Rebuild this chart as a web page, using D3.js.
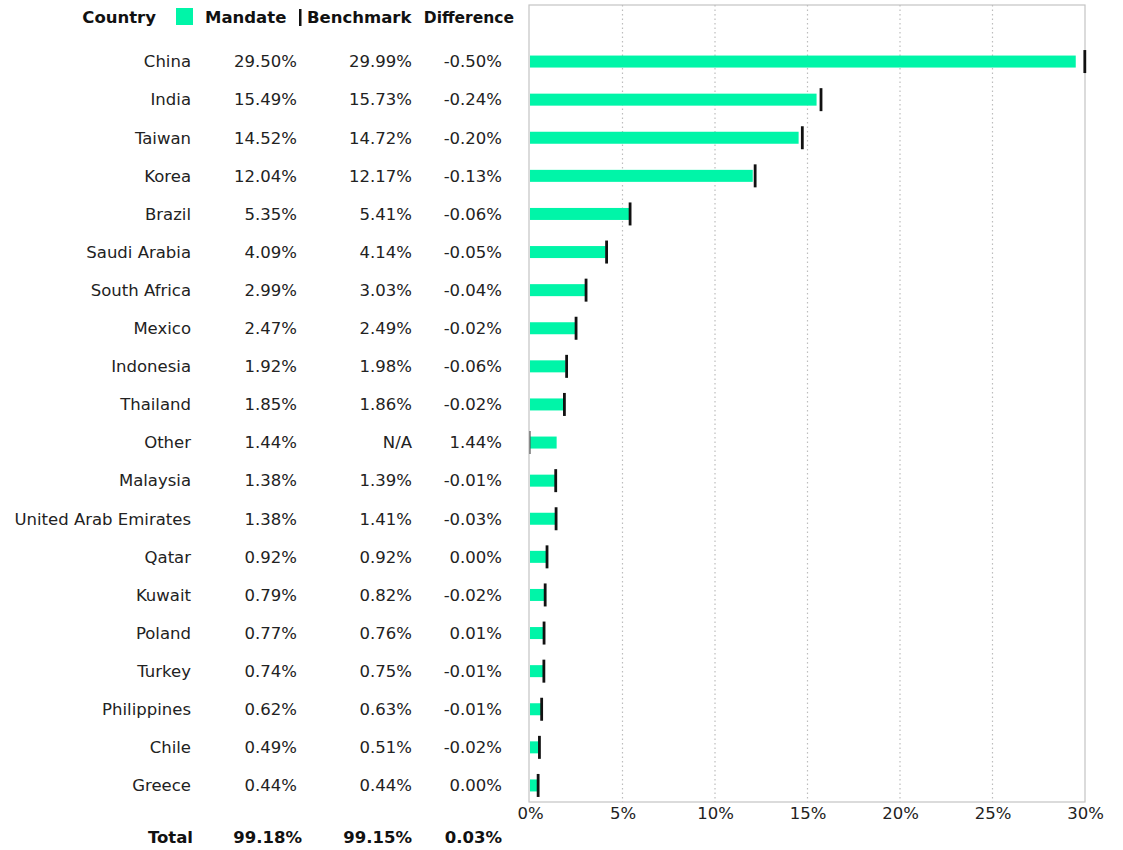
<!DOCTYPE html>
<html>
<head>
<meta charset="utf-8">
<script src="https://cdn.jsdelivr.net/npm/d3@7"></script>
<style>
  html, body { margin: 0; padding: 0; background: #fff; }
  svg { display: block; font-family: "DejaVu Sans", sans-serif; }
</style>
</head>
<body>
<svg id="chart" width="1123" height="850"></svg>
<script>
// Country allocation: mandate weight vs. benchmark weight (%)
const countries = ["China", "India", "Taiwan", "Korea", "Brazil", "Saudi Arabia", "South Africa",
  "Mexico", "Indonesia", "Thailand", "Other", "Malaysia", "United Arab Emirates", "Qatar",
  "Kuwait", "Poland", "Turkey", "Philippines", "Chile", "Greece"];
const mandate = [29.50, 15.49, 14.52, 12.04, 5.35, 4.09, 2.99, 2.47, 1.92, 1.85, 1.44, 1.38,
  1.38, 0.92, 0.79, 0.77, 0.74, 0.62, 0.49, 0.44];
const benchmark = [29.99, 15.73, 14.72, 12.17, 5.41, 4.14, 3.03, 2.49, 1.98, 1.86, null, 1.39,
  1.41, 0.92, 0.82, 0.76, 0.75, 0.63, 0.51, 0.44];
const difference = [-0.50, -0.24, -0.20, -0.13, -0.06, -0.05, -0.04, -0.02, -0.06, -0.02, 1.44,
  -0.01, -0.03, 0.00, -0.02, 0.01, -0.01, -0.01, -0.02, 0.00];
const totals = { mandate: 99.18, benchmark: 99.15, difference: 0.03 };
const xTicks = [0, 5, 10, 15, 20, 25, 30];

const svg = d3.select("#chart");
const green = "#00f5a8";
const textColor = "#222";
const fs = 16.5;
const fmt = v => v.toFixed(2) + "%";

const plot = { left: 530, right: 1085, top: 5, bottom: 802 };
const x = d3.scaleLinear().domain([0, 30]).range([plot.left, plot.right]);
const y = d3.scaleBand().domain(countries).range([42, 804]);
const rowY = c => y(c) + y.bandwidth() / 2;

// Plot frame
svg.append("rect")
  .attr("x", plot.left - 1).attr("y", plot.top)
  .attr("width", plot.right - plot.left + 1).attr("height", plot.bottom - plot.top)
  .attr("fill", "none").attr("stroke", "#c4c4c4").attr("stroke-width", 1.2);

// Dotted vertical gridlines
svg.append("g").selectAll("line")
  .data(xTicks.filter(t => t > 0 && t < 30))
  .join("line")
  .attr("x1", d => x(d)).attr("x2", d => x(d))
  .attr("y1", plot.top).attr("y2", plot.bottom)
  .attr("stroke", "#bdbdbd").attr("stroke-width", 1.2)
  .attr("stroke-dasharray", "1.5,3");

// X axis labels
const xAxis = d3.axisBottom(x).tickValues(xTicks).tickFormat(d => d + "%").tickSize(0).tickPadding(5);
const gx = svg.append("g").attr("transform", `translate(0,${plot.bottom})`).call(xAxis);
gx.select(".domain").remove();
gx.selectAll("text").attr("font-size", fs).attr("fill", textColor)
  .attr("font-family", "DejaVu Sans, sans-serif");

const rows = countries.map((c, i) => ({ c, m: mandate[i], b: benchmark[i], d: difference[i] }));

// Mandate bars
svg.append("g").selectAll("rect")
  .data(rows)
  .join("rect")
  .attr("x", x(0))
  .attr("y", d => rowY(d.c) - 5.5)
  .attr("width", d => x(d.m) - x(0))
  .attr("height", 12)
  .attr("fill", green);

// Benchmark markers
svg.append("g").selectAll("line")
  .data(rows)
  .join("line")
  .attr("x1", d => x(d.b ?? 0)).attr("x2", d => x(d.b ?? 0))
  .attr("y1", d => rowY(d.c) - 11).attr("y2", d => rowY(d.c) + 12)
  .attr("stroke", d => d.b == null ? "#555" : "#111")
  .attr("stroke-width", d => d.b == null ? 1.2 : 2.8);

// Table columns
const table = svg.append("g").attr("font-size", fs).attr("fill", textColor);
const cols = [
  { x: 191, v: d => d.c },
  { x: 297, v: d => fmt(d.m) },
  { x: 412, v: d => d.b == null ? "N/A" : fmt(d.b) },
  { x: 502, v: d => fmt(d.d) }
];
cols.forEach(col => {
  table.append("g").selectAll("text")
    .data(rows)
    .join("text")
    .attr("x", col.x)
    .attr("y", d => rowY(d.c) + 0.5)
    .attr("dy", "0.35em")
    .attr("text-anchor", "end")
    .text(col.v);
});

// Header with legend
const header = svg.append("g").attr("font-weight", "bold").attr("fill", "#111");
header.append("text").attr("x", 156).attr("y", 17).attr("dy", "0.35em")
  .attr("text-anchor", "end").attr("font-size", fs).text("Country");
header.append("rect").attr("x", 176).attr("y", 8).attr("width", 17).attr("height", 17).attr("fill", green);
header.append("text").attr("x", 205).attr("y", 17).attr("dy", "0.35em")
  .attr("font-size", fs).text("Mandate");
header.append("rect").attr("x", 299).attr("y", 9).attr("width", 2.5).attr("height", 17).attr("fill", "#111");
header.append("text").attr("x", 307).attr("y", 17).attr("dy", "0.35em")
  .attr("font-size", fs).text("Benchmark");
header.append("text").attr("x", 514).attr("y", 18).attr("dy", "0.35em")
  .attr("text-anchor", "end").attr("font-size", 15.5).text("Difference");

// Totals row
const totalY = 837;
const tot = svg.append("g").attr("font-weight", "bold").attr("font-size", fs)
  .attr("fill", "#111").attr("text-anchor", "end");
tot.append("text").attr("x", 193).attr("y", totalY).attr("dy", "0.35em").text("Total");
tot.append("text").attr("x", 302).attr("y", totalY).attr("dy", "0.35em").text(fmt(totals.mandate));
tot.append("text").attr("x", 412).attr("y", totalY).attr("dy", "0.35em").text(fmt(totals.benchmark));
tot.append("text").attr("x", 502).attr("y", totalY).attr("dy", "0.35em").text(fmt(totals.difference));
</script>
</body>
</html>
